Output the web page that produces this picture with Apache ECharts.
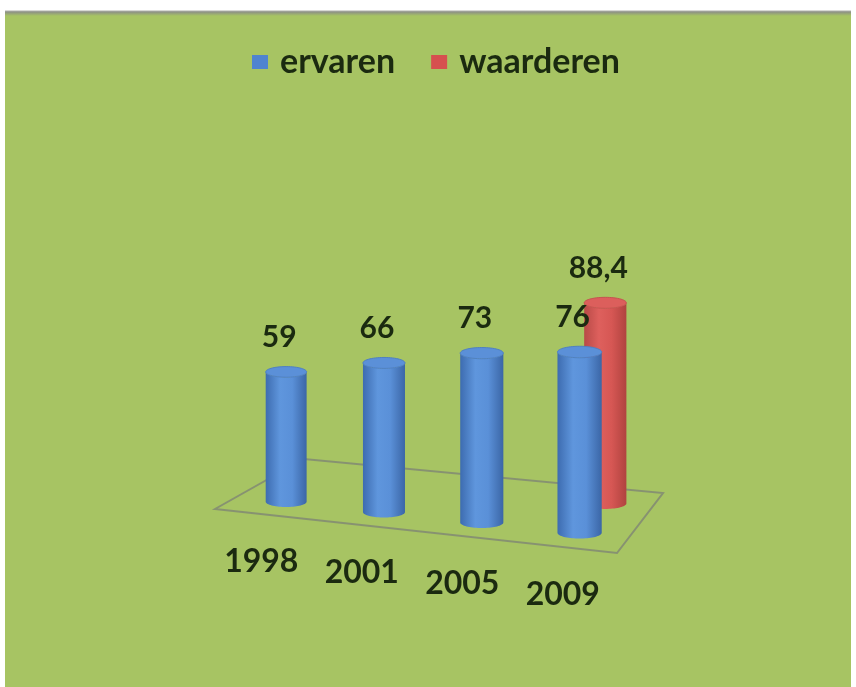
<!DOCTYPE html>
<html>
<head>
<meta charset="utf-8">
<script src="https://cdn.jsdelivr.net/npm/echarts@6/dist/echarts.min.js"></script>
<style>
  html, body { margin: 0; padding: 0; background: #ffffff; }
  #chart { width: 856px; height: 687px; }
</style>
</head>
<body>
<div id="chart"></div>
<script>
// ---- data ----
const years = ['1998', '2001', '2005', '2009'];
const ervaren = [59, 66, 73, 76];
const waarderen = [null, null, null, 88.4];
const seriesNames = ['ervaren', 'waarderen'];

// ---- layout / style ----
const BG = '#a7c463';
const TEXT = '#1b2a10';
const FONT = 'Lato';
// floor of the 3D plot: front-left, front-right, back-right, back-left
const FLOOR = { fl: [215, 509], fr: [617, 553], br: [663, 493], bl: [304, 459] };
const DEPTH = { ervaren: 0.25, waarderen: 0.75 };
const BLUE = { stops: ['#3d6cb0', '#5f96dd', '#5a90d8', '#3b66a6'], top: '#5b90d8', topStroke: '#4f80c2', legend: '#4f84cf' };
const RED = { stops: ['#b84a47', '#de605d', '#d65754', '#b0433f'], top: '#dc5f5c', topStroke: '#c65350', legend: '#d6504f' };

function lerp(a, b, t) { return [a[0] + (b[0] - a[0]) * t, a[1] + (b[1] - a[1]) * t]; }
// bilinear map of (u along categories, v into depth) onto the floor
function project(u, v) {
  const front = lerp(FLOOR.fl, FLOOR.fr, u);
  const back = lerp(FLOOR.bl, FLOOR.br, u);
  return lerp(front, back, v);
}
// apparent size factor: closer (right / front) looks larger
function perspective(u, v) { return (1 + 0.11 * u) * (1 - 0.09 * v); }

function ellipsePts(cx, cy, rx, ry, from, to, n) {
  const pts = [];
  for (let i = 0; i <= n; i++) {
    const t = from + (to - from) * i / n;
    pts.push([cx + rx * Math.cos(t), cy + ry * Math.sin(t)]);
  }
  return pts;
}

function fmt(v) { return String(v).replace('.', ','); }

function cylinderRenderer(depth, pal) {
  return function (params, api) {
    const value = api.value(1);
    if (value == null || isNaN(value)) return;
    const cs = params.coordSys;
    const cx = api.coord([api.value(0), 0])[0];
    const u = (cx - cs.x) / cs.width;
    const base = project(u, depth);
    const unit = api.size([0, 1])[1] * perspective(u, depth);
    const h = value * unit;
    const w = 18.6 * unit;
    const rx = w / 2, ry = 0.13 * w;
    const x = base[0], yb = base[1], yt = yb - h;

    const body = [[x - rx, yt], [x - rx, yb]]
      .concat(ellipsePts(x, yb, rx, ry, Math.PI, 0, 36))
      .concat([[x + rx, yt]])
      .concat(ellipsePts(x, yt, rx, ry, 0, Math.PI, 36));
    const top = ellipsePts(x, yt, rx, ry, 0, Math.PI * 2, 60);

    return {
      type: 'group',
      children: [
        {
          type: 'polygon',
          shape: { points: body },
          style: {
            fill: {
              type: 'linear', x: 0, y: 0, x2: 1, y2: 0,
              colorStops: [
                { offset: 0, color: pal.stops[0] },
                { offset: 0.35, color: pal.stops[1] },
                { offset: 0.65, color: pal.stops[2] },
                { offset: 1, color: pal.stops[3] }
              ]
            }
          }
        },
        {
          type: 'polygon',
          shape: { points: top },
          style: { fill: pal.top, stroke: pal.topStroke, lineWidth: 1 }
        },
        {
          type: 'text',
          z2: 10,
          style: {
            text: fmt(value),
            x: x - 7,
            y: yt - ry - 29,
            align: 'center',
            verticalAlign: 'middle',
            fill: TEXT,
            font: 'bold 30px ' + FONT
          }
        }
      ]
    };
  };
}

function yearLabelRenderer(params, api) {
  const cs = params.coordSys;
  const cx = api.coord([api.value(0), 0])[0];
  const u = (cx - cs.x) / cs.width;
  const p = project(u, 0);
  return {
    type: 'text',
    style: {
      text: years[api.value(0)],
      x: p[0] - 4,
      y: p[1] + 47,
      align: 'center',
      verticalAlign: 'middle',
      fill: TEXT,
      font: 'bold 32px ' + FONT
    }
  };
}

const chart = echarts.init(document.getElementById('chart'), null, { renderer: 'canvas' });

chart.setOption({
  backgroundColor: '#ffffff',
  animation: false,
  graphic: [
    { type: 'rect', z: -10, shape: { x: 5, y: 15, width: 846, height: 672 }, style: { fill: BG } },
    {
      type: 'rect', z: -9, shape: { x: 5, y: 10, width: 846, height: 6 },
      style: {
        fill: { type: 'linear', x: 0, y: 0, x2: 0, y2: 1,
          colorStops: [{ offset: 0, color: '#f4f4f2' }, { offset: 0.3, color: '#8c8f86' }, { offset: 1, color: BG }] }
      }
    },
    {
      type: 'polygon', z: 0,
      shape: { points: [FLOOR.fl, FLOOR.fr, FLOOR.br, FLOOR.bl] },
      style: { fill: 'none', stroke: 'rgba(128,134,116,0.8)', lineWidth: 2 }
    }
  ],
  legend: {
    left: 252,
    top: 45,
    padding: 0,
    icon: 'rect',
    itemWidth: 16,
    itemHeight: 14,
    itemGap: 36,
    textStyle: { fontFamily: FONT, fontSize: 34, fontWeight: 'bold', color: TEXT, padding: [0, 0, 0, 7] },
    data: [
      { name: seriesNames[0], itemStyle: { color: BLUE.legend } },
      { name: seriesNames[1], itemStyle: { color: RED.legend } }
    ]
  },
  grid: { left: 215, right: 239, top: 200, height: 222 },
  xAxis: { type: 'category', data: years, show: false, boundaryGap: true },
  yAxis: { type: 'value', min: 0, max: 100, show: false },
  series: [
    {
      name: seriesNames[1],
      type: 'custom',
      z: 3,
      itemStyle: { color: RED.legend },
      renderItem: cylinderRenderer(DEPTH.waarderen, RED),
      data: waarderen.map((v, i) => [i, v])
    },
    {
      name: seriesNames[0],
      type: 'custom',
      z: 4,
      itemStyle: { color: BLUE.legend },
      renderItem: cylinderRenderer(DEPTH.ervaren, BLUE),
      data: ervaren.map((v, i) => [i, v])
    },
    {
      name: 'jaar',
      type: 'custom',
      z: 5,
      silent: true,
      renderItem: yearLabelRenderer,
      data: years.map((y, i) => [i, 0])
    }
  ]
});
</script>
</body>
</html>
